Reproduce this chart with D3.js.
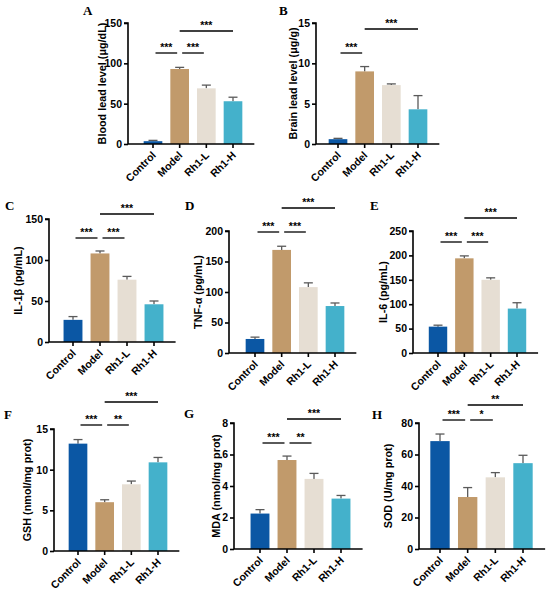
<!DOCTYPE html>
<html><head><meta charset="utf-8">
<script src="https://cdn.jsdelivr.net/npm/d3@7"></script>
<style>
html,body{margin:0;padding:0;background:#fff;}
svg{display:block;}
</style></head>
<body>
<svg id="chart" width="550" height="592"></svg>
<script>
// ---------------- DATA ----------------
const groups = ["Control", "Model", "Rh1-L", "Rh1-H"];
const groupColors = ["#0b57a4", "#c19a6b", "#e6ded3", "#44b1cb"];

const bloodLead = [3.5, 93, 69, 53];
const bloodLeadErr = [1, 2, 4, 5];
const brainLead = [0.6, 9.0, 7.3, 4.3];
const brainLeadErr = [0.1, 0.6, 0.15, 1.7];
const il1b = [27, 108, 76, 46];
const il1bErr = [4, 3, 4, 4];
const tnfa = [23, 169, 108, 77];
const tnfaErr = [3, 6, 7, 5];
const il6 = [54, 194, 150, 91];
const il6Err = [3, 5, 4, 12];
const gsh = [13.2, 6.0, 8.2, 10.9];
const gshErr = [0.5, 0.3, 0.4, 0.6];
const mda = [2.25, 5.65, 4.45, 3.2];
const mdaErr = [0.25, 0.25, 0.35, 0.2];
const sod = [68.5, 33, 45.5, 54.5];
const sodErr = [4.5, 6, 3, 5];

const ticksA = [0, 50, 100, 150];
const ticksB = [0, 5, 10, 15];
const ticksC = [0, 50, 100, 150];
const ticksD = [0, 50, 100, 150, 200];
const ticksE = [0, 50, 100, 150, 200, 250];
const ticksF = [0, 5, 10, 15];
const ticksG = [0, 2, 4, 6, 8];
const ticksH = [0, 20, 40, 60, 80];

// significance: [groupA, groupB, label, level]
const sigA = [["Control","Model","***",1],["Model","Rh1-L","***",1],["Model","Rh1-H","***",2]];
const sigB = [["Control","Model","***",1],["Model","Rh1-H","***",2]];
const sigC = [["Control","Model","***",1],["Model","Rh1-L","***",1],["Model","Rh1-H","***",2]];
const sigD = [["Control","Model","***",1],["Model","Rh1-L","***",1],["Model","Rh1-H","***",2]];
const sigE = [["Control","Model","***",1],["Model","Rh1-L","***",1],["Model","Rh1-H","***",2]];
const sigF = [["Control","Model","***",1],["Model","Rh1-L","**",1],["Model","Rh1-H","***",2]];
const sigG = [["Control","Model","***",1],["Model","Rh1-L","**",1],["Model","Rh1-H","***",2]];
const sigH = [["Control","Model","***",1],["Model","Rh1-L","*",1],["Model","Rh1-H","**",2]];

// ---------------- LAYOUT ----------------
const panels = [
  {letter:"A", title:"Blood lead level (\u03bcg/dL)", vals:bloodLead, errs:bloodLeadErr, ticks:ticksA, sig:sigA,
   lx:83, ly:15, ax:128, yTop:23, yBot:144, c0:153, c3:233, sigY:[53,31], tOff:26},
  {letter:"B", title:"Brain lead level (\u03bcg/g)", vals:brainLead, errs:brainLeadErr, ticks:ticksB, sig:sigB,
   lx:279, ly:15, ax:316, yTop:23, yBot:144, c0:338, c3:418, sigY:[53,29], tOff:23},
  {letter:"C", title:"IL-1\u03b2 (pg/mL)", vals:il1b, errs:il1bErr, ticks:ticksC, sig:sigC,
   lx:5, ly:210, ax:49, yTop:219, yBot:342, c0:73, c3:154, sigY:[238,214], tOff:31},
  {letter:"D", title:"TNF-\u03b1 (pg/mL)", vals:tnfa, errs:tnfaErr, ticks:ticksD, sig:sigD,
   lx:185, ly:210, ax:229, yTop:231, yBot:353, c0:255, c3:335, sigY:[232,208], tOff:31},
  {letter:"E", title:"IL-6 (pg/mL)", vals:il6, errs:il6Err, ticks:ticksE, sig:sigE,
   lx:370, ly:210, ax:413, yTop:231, yBot:353, c0:438, c3:517, sigY:[242,218], tOff:30},
  {letter:"F", title:"GSH (nmol/mg prot)", vals:gsh, errs:gshErr, ticks:ticksF, sig:sigF,
   lx:4, ly:419, ax:54, yTop:429, yBot:551, c0:78, c3:158, sigY:[425,402], tOff:27},
  {letter:"G", title:"MDA (nmol/mg prot)", vals:mda, errs:mdaErr, ticks:ticksG, sig:sigG,
   lx:184, ly:418, ax:234, yTop:423, yBot:549, c0:260, c3:341, sigY:[443,419], tOff:18},
  {letter:"H", title:"SOD (U/mg prot)", vals:sod, errs:sodErr, ticks:ticksH, sig:sigH,
   lx:372, ly:419, ax:419, yTop:423, yBot:549, c0:440, c3:523, sigY:[420,405], tOff:31}
];

const FONT = "Arial, 'Liberation Sans', Helvetica, sans-serif";
const svg = d3.select("#chart");

panels.forEach(p => {
  const g = svg.append("g");
  const step = (p.c3 - p.c0) / 3;
  const x = d3.scaleBand().domain(groups)
    .range([p.c0 - step / 2, p.c3 + step / 2])
    .paddingInner(0.3).paddingOuter(0.15);
  const y = d3.scaleLinear().domain([0, d3.max(p.ticks)]).range([p.yBot, p.yTop]);
  const color = d3.scaleOrdinal().domain(groups).range(groupColors);
  const data = groups.map((k, i) => ({k, v: p.vals[i], e: p.errs[i]}));

  // error bars (upper)
  const eb = g.append("g").attr("stroke", "#5a5a5a").attr("stroke-width", 1.3).attr("fill", "none");
  data.forEach(d => {
    const cx = x(d.k) + x.bandwidth() / 2;
    eb.append("line").attr("x1", cx).attr("x2", cx).attr("y1", y(d.v)).attr("y2", y(d.v + d.e));
    eb.append("line").attr("x1", cx - 4.5).attr("x2", cx + 4.5).attr("y1", y(d.v + d.e)).attr("y2", y(d.v + d.e));
  });

  // bars
  g.append("g").selectAll("rect").data(data).join("rect")
    .attr("x", d => x(d.k)).attr("width", x.bandwidth())
    .attr("y", d => y(d.v)).attr("height", d => y(0) - y(d.v))
    .attr("fill", d => color(d.k));

  // y axis
  const yAxis = d3.axisLeft(y).tickValues(p.ticks).tickSize(4).tickPadding(2).tickFormat(d3.format("d"));
  const ya = g.append("g").attr("transform", `translate(${p.ax},0)`).call(yAxis);
  ya.select(".domain").attr("d", `M-4,${p.yTop}H0V${p.yBot}`);
  ya.selectAll("line").attr("stroke-width", 1.6);
  ya.select(".domain").attr("stroke-width", 1.6);
  ya.selectAll("text").attr("font-family", FONT).attr("font-weight", "bold").attr("font-size", 10.5).attr("fill", "#000");

  // x axis
  const xEnd = p.c3 + step * 0.8;
  const xa = g.append("g").attr("transform", `translate(0,${p.yBot})`)
    .call(d3.axisBottom(x).tickSize(4).tickSizeOuter(0).tickFormat(""));
  xa.select(".domain").attr("d", `M${p.ax},0H${xEnd}`).attr("stroke-width", 1.6);
  xa.selectAll("line").attr("stroke-width", 1.6);
  xa.selectAll(".tick").append("text")
    .attr("transform", "translate(3.5,12) rotate(-45)")
    .attr("text-anchor", "end")
    .attr("font-family", FONT).attr("font-weight", "bold").attr("font-size", 10.5)
    .attr("fill", "#000")
    .text(d => d);

  // y title
  g.append("text")
    .attr("transform", `translate(${p.ax - p.tOff + 4},${(p.yTop + p.yBot) / 2}) rotate(-90)`)
    .attr("text-anchor", "middle")
    .attr("font-family", FONT).attr("font-weight", "bold").attr("font-size", 10.8)
    .text(p.title);

  // panel letter
  g.append("text").attr("x", p.lx).attr("y", p.ly)
    .attr("font-family", "'Liberation Serif', 'Times New Roman', serif").attr("font-weight", "bold").attr("font-size", 13)
    .text(p.letter);

  // significance
  p.sig.forEach(s => {
    const a = x(s[0]) + x.bandwidth() / 2, b = x(s[1]) + x.bandwidth() / 2;
    const shrink = s[3] === 1 ? 2.5 : 0;
    const ly = p.sigY[s[3] - 1];
    g.append("line").attr("x1", a + shrink).attr("x2", b - shrink).attr("y1", ly).attr("y2", ly)
      .attr("stroke", "#000").attr("stroke-width", 1.3);
    g.append("text").attr("x", (a + b) / 2).attr("y", ly - 2.5)
      .attr("text-anchor", "middle")
      .attr("font-family", FONT).attr("font-weight", "bold").attr("font-size", 10.5)
      .text(s[2]);
  });
});
</script>
</body></html>
